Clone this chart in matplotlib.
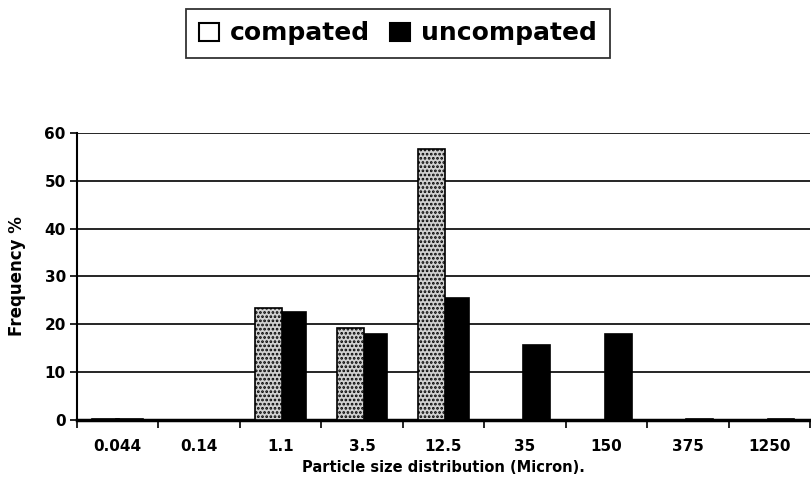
import matplotlib
matplotlib.use("Agg")
import matplotlib.pyplot as plt
from matplotlib.patches import Patch
import numpy as np

categories = ["0.044", "0.14", "1.1", "3.5", "12.5", "35", "150", "375", "1250"]
compacted = [0.3, 0.0, 23.4, 19.2, 56.7, 0.0, 0.0, 0.0, 0.0]
uncompacted = [0.3, 0.0, 22.6, 18.0, 25.5, 15.7, 18.0, 0.3, 0.3]
yticks = [0, 10, 20, 30, 40, 50, 60]

plt.rcParams['font.family'] = ['DejaVu Sans']
plt.rcParams['hatch.linewidth'] = 1.3

fig = plt.figure(figsize=(8.12, 4.91), dpi=100)
ax = fig.add_axes([0.0948, 0.1446, 0.9027, 0.5846])

x = np.arange(len(categories))
w = 0.33
off = 0.145
ax.bar(x + off, uncompacted, width=w, color='black', edgecolor='black',
       linewidth=1.2, zorder=3)
ax.bar(x - off, compacted, width=w, color='#d0d0d0', edgecolor='black',
       hatch='....', linewidth=1.2, zorder=4)

ax.set_xlim(-0.5, len(categories) - 0.5)
ax.set_ylim(0, 60)
ax.set_yticks(yticks)
ax.set_yticklabels([str(t) for t in yticks], fontsize=11, fontweight='bold')
ax.set_xticks(x)
ax.set_xticklabels(categories, fontsize=11, fontweight='bold')
ax.tick_params(axis='x', which='major', length=0, pad=14)
ax.set_xticks(np.arange(-0.5, len(categories), 1), minor=True)
ax.tick_params(axis='x', which='minor', length=6, width=1.2, direction='out')
ax.tick_params(axis='y', length=5, width=1.2, direction='out', pad=3)

for t in yticks[1:]:
    ax.axhline(t, color='black', linewidth=1.2, zorder=1)

for s in ['top', 'right']:
    ax.spines[s].set_visible(False)
ax.spines['left'].set_linewidth(1.5)
ax.spines['bottom'].set_linewidth(2.5)

ax.set_ylabel('Frequency %', fontsize=12, fontweight='bold', labelpad=13)
ax.set_xlabel('Particle size distribution (Micron).', fontsize=10.5, fontweight='bold', labelpad=4)

handles = [Patch(facecolor='white', edgecolor='black', linewidth=1.5, label='compated'),
           Patch(facecolor='black', edgecolor='black', linewidth=1.5, label='uncompated')]
leg = fig.legend(handles=handles, loc='center', bbox_to_anchor=(0.49, 0.932), ncol=2,
                 frameon=True, fancybox=False, handlelength=0.8,
                 handleheight=0.75, handletextpad=0.45, columnspacing=0.8,
                 borderpad=0.5, borderaxespad=0,
                 prop={'weight': 'bold', 'size': 18})
leg.get_frame().set_edgecolor('black')
leg.get_frame().set_linewidth(1.3)

fig.savefig('out.png', dpi=100)
